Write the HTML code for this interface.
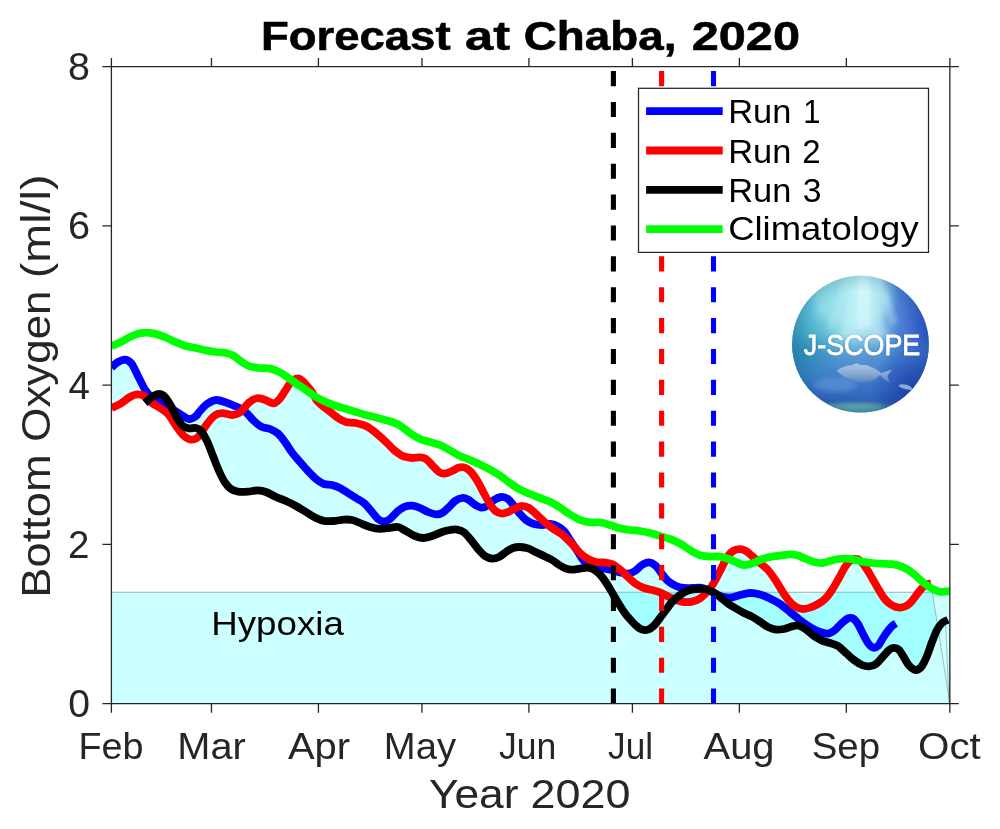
<!DOCTYPE html>
<html lang="en"><head><meta charset="utf-8"><title>Forecast at Chaba, 2020</title>
<style>html,body{margin:0;padding:0;background:#fff}svg{display:block;font-family:"Liberation Sans",sans-serif}</style></head>
<body>
<svg width="1000" height="829" viewBox="0 0 1000 829">
<defs><clipPath id="ax"><rect x="111.40" y="66.70" width="838.45" height="637.00"/></clipPath>
<filter id="gs" filterUnits="userSpaceOnUse" x="0" y="0" width="1000" height="829"><feOffset dx="0" dy="0"/></filter>
<clipPath id="rc"><rect x="100" y="60" width="831" height="650"/></clipPath>
<clipPath id="lc"><circle cx="860.5" cy="344.2" r="68.4"/></clipPath>
<linearGradient id="lg1" x1="0" y1="0" x2="1" y2="0"><stop offset="0" stop-color="#44acc8"/><stop offset="0.2" stop-color="#6ccadc"/><stop offset="0.45" stop-color="#94dce6"/><stop offset="0.62" stop-color="#84c8e4"/><stop offset="0.76" stop-color="#5084d6"/><stop offset="0.9" stop-color="#3660ca"/><stop offset="1" stop-color="#2a4cc0"/></linearGradient>
<linearGradient id="lg2" x1="0" y1="0" x2="0" y2="1"><stop offset="0" stop-color="#4080d0" stop-opacity="0"/><stop offset="0.42" stop-color="#3f80cc" stop-opacity="0.05"/><stop offset="0.58" stop-color="#3f7ccc" stop-opacity="0.7"/><stop offset="0.8" stop-color="#3468c4" stop-opacity="0.92"/><stop offset="0.9" stop-color="#2a5cb4" stop-opacity="0.95"/><stop offset="0.95" stop-color="#3f8fa0" stop-opacity="0.95"/><stop offset="1" stop-color="#4a9a98" stop-opacity="1"/></linearGradient>
<radialGradient id="lg3" cx="860.5" cy="344.2" r="68.4" gradientUnits="userSpaceOnUse"><stop offset="0.78" stop-color="#104880" stop-opacity="0"/><stop offset="1" stop-color="#104880" stop-opacity="0.18"/></radialGradient>
<radialGradient id="lg4" cx="918" cy="392" r="48" gradientUnits="userSpaceOnUse"><stop offset="0" stop-color="#1838a8" stop-opacity="0.85"/><stop offset="1" stop-color="#1838a8" stop-opacity="0"/></radialGradient>
<radialGradient id="lg5" cx="800" cy="352" r="40" gradientUnits="userSpaceOnUse"><stop offset="0" stop-color="#2088a8" stop-opacity="0.7"/><stop offset="1" stop-color="#2088a8" stop-opacity="0"/></radialGradient>
<linearGradient id="fg" x1="0" y1="0" x2="0" y2="1"><stop offset="0" stop-color="#b4cce4"/><stop offset="0.5" stop-color="#8fb0d4"/><stop offset="1" stop-color="#5a80bc"/></linearGradient>
<filter id="bl" x="-30%" y="-30%" width="160%" height="160%"><feGaussianBlur stdDeviation="4"/></filter>
<filter id="bl2" x="-30%" y="-60%" width="160%" height="220%"><feGaussianBlur stdDeviation="2.2"/></filter>
<filter id="ts" x="-10%" y="-30%" width="120%" height="160%"><feGaussianBlur stdDeviation="1.3"/></filter>
<filter id="fb" x="-10%" y="-20%" width="120%" height="140%"><feGaussianBlur stdDeviation="0.5"/></filter>

</defs>
<rect width="1000" height="829" fill="#fff"/>
<g clip-path="url(#ax)">
<rect x="106.40" y="592.23" width="843.45" height="116.48" fill="#00ffff" fill-opacity="0.2" stroke="#000" stroke-opacity="0.3" stroke-width="1"/>
<path d="M111.4 367.5 113.4 365.7 115.4 363.9 117.4 362.4 119.4 361.2 121.4 360.3 123.4 359.7 125.4 359.7 127.4 360.2 129.4 361.4 131.4 363.4 133.4 366.5 135.4 370.6 137.4 374.8 139.4 378.8 141.4 382.9 143.4 386.7 145.4 390.1 147.4 392.9 149.4 395.1 151.4 396.9 153.4 396.1 155.4 395.0 157.4 394.2 159.4 394.0 161.4 394.5 163.4 395.6 165.4 397.4 167.4 400.0 169.4 403.2 171.4 406.7 173.4 409.9 175.4 411.2 177.4 412.4 179.4 413.6 181.4 414.9 183.4 416.2 185.4 417.5 187.4 418.5 189.4 419.0 191.4 418.7 193.4 417.8 195.4 416.4 197.4 414.6 199.4 411.7 201.4 409.4 203.4 407.2 205.4 405.3 207.4 403.7 209.4 402.4 211.4 401.4 213.4 400.5 215.4 400.1 217.4 400.0 219.4 400.3 221.4 400.9 223.4 401.6 225.4 402.3 227.4 403.0 229.4 403.7 231.4 404.5 233.4 405.3 235.4 406.2 237.4 407.2 239.4 408.1 241.4 409.1 243.4 409.0 245.4 406.5 247.4 404.1 249.4 402.2 251.4 400.7 253.4 399.5 255.4 398.6 257.4 398.1 259.4 398.1 261.4 398.6 263.4 399.3 265.4 400.0 267.4 401.0 269.4 402.0 271.4 402.8 273.4 403.4 275.4 402.8 277.4 401.3 279.4 399.2 281.4 396.6 283.4 393.5 285.4 390.4 287.4 387.1 289.4 384.2 291.4 382.1 293.4 380.3 295.4 379.0 297.4 378.2 299.4 378.7 301.4 380.0 303.4 381.8 305.4 383.9 307.4 386.1 309.4 388.5 311.4 391.1 313.4 394.4 315.4 398.2 317.4 401.3 319.4 403.4 321.4 405.1 323.4 406.6 325.4 408.0 327.4 409.5 329.4 411.1 331.4 412.8 333.4 414.5 335.4 416.1 337.4 417.6 339.4 418.9 341.4 420.1 343.4 421.1 345.4 421.8 347.4 422.3 349.4 422.5 351.4 422.6 353.4 422.7 355.4 422.9 357.4 423.3 359.4 423.7 361.4 424.2 363.4 424.9 365.4 425.7 367.4 426.8 369.4 428.0 371.4 429.4 373.4 430.9 375.4 432.5 377.4 434.2 379.4 435.9 381.4 437.7 383.4 439.5 385.4 441.4 387.4 443.4 389.4 445.4 391.4 447.5 393.4 449.4 395.4 451.2 397.4 452.7 399.4 454.1 401.4 455.4 403.4 456.4 405.4 457.0 407.4 457.4 409.4 457.7 411.4 458.0 413.4 458.0 415.4 457.8 417.4 457.5 419.4 457.4 421.4 457.5 423.4 457.9 425.4 458.6 427.4 460.1 429.4 462.2 431.4 464.4 433.4 466.5 435.4 468.7 437.4 470.7 439.4 472.3 441.4 473.2 443.4 473.6 445.4 473.6 447.4 473.0 449.4 472.2 451.4 471.3 453.4 470.3 455.4 469.2 457.4 468.2 459.4 467.5 461.4 467.2 463.4 467.2 465.4 467.8 467.4 468.8 469.4 470.4 471.4 472.5 473.4 475.0 475.4 477.9 477.4 481.0 479.4 484.5 481.4 488.3 483.4 492.3 485.4 496.0 487.4 499.6 489.4 503.0 491.4 502.2 493.4 500.4 495.4 499.1 497.4 498.0 499.4 497.3 501.4 497.0 503.4 497.1 505.4 497.6 507.4 498.6 509.4 500.2 511.4 502.6 513.4 505.2 515.4 507.8 517.4 507.4 519.4 506.5 521.4 506.0 523.4 506.1 525.4 506.5 527.4 507.2 529.4 508.2 531.4 509.7 533.4 511.6 535.4 513.5 537.4 515.3 539.4 517.2 541.4 519.1 543.4 521.0 545.4 522.7 547.4 524.2 549.4 524.0 551.4 524.2 553.4 524.6 555.4 525.3 557.4 526.2 559.4 527.3 561.4 528.7 563.4 530.4 565.4 532.7 567.4 535.8 569.4 539.1 571.4 542.1 573.4 545.1 575.4 547.9 577.4 550.3 579.4 552.4 581.4 554.3 583.4 555.9 585.4 557.4 587.4 558.7 589.4 559.7 591.4 560.6 593.4 561.3 595.4 561.9 597.4 562.2 599.4 562.3 601.4 562.3 603.4 562.3 605.4 562.6 607.4 562.8 609.4 563.1 611.4 563.8 613.4 564.7 615.4 566.0 617.4 567.5 619.4 569.1 621.4 570.8 623.4 572.6 625.4 573.5 627.4 573.6 629.4 573.4 631.4 572.8 633.4 571.9 635.4 570.7 637.4 569.1 639.4 567.1 641.4 565.4 643.4 564.2 645.4 563.1 647.4 562.5 649.4 562.4 651.4 563.0 653.4 564.0 655.4 565.5 657.4 567.5 659.4 570.3 661.4 573.2 663.4 575.8 665.4 578.3 667.4 580.5 669.4 582.1 671.4 583.5 673.4 584.7 675.4 585.7 677.4 586.6 679.4 587.2 681.4 587.6 683.4 587.9 685.4 588.1 687.4 588.2 689.4 588.1 691.4 588.0 693.4 587.9 695.4 587.7 697.4 587.5 699.4 587.5 701.4 587.8 703.4 588.3 705.4 589.0 707.4 589.8 709.4 589.3 711.4 586.6 713.4 583.5 715.4 580.1 717.4 576.2 719.4 572.2 721.4 568.2 723.4 564.2 725.4 560.1 727.4 556.6 729.4 554.1 731.4 552.1 733.4 550.8 735.4 549.9 737.4 549.4 739.4 549.2 741.4 549.3 743.4 549.8 745.4 550.7 747.4 551.9 749.4 553.7 751.4 555.5 753.4 557.2 755.4 559.0 757.4 560.7 759.4 562.5 761.4 564.2 763.4 565.8 765.4 567.4 767.4 569.3 769.4 571.7 771.4 574.3 773.4 577.1 775.4 580.1 777.4 583.2 779.4 586.5 781.4 589.9 783.4 593.1 785.4 596.0 787.4 598.7 789.4 601.2 791.4 603.4 793.4 605.3 795.4 606.7 797.4 607.8 799.4 608.5 801.4 608.9 803.4 609.0 805.4 608.8 807.4 608.4 809.4 607.8 811.4 607.1 813.4 606.3 815.4 605.4 817.4 604.3 819.4 603.2 821.4 601.9 823.4 600.5 825.4 598.6 827.4 596.3 829.4 593.7 831.4 590.9 833.4 587.8 835.4 584.4 837.4 580.9 839.4 577.3 841.4 573.5 843.4 569.7 845.4 566.4 847.4 563.6 849.4 561.5 851.4 560.1 853.4 559.2 855.4 559.0 857.4 559.1 859.4 560.1 861.4 561.9 863.4 564.3 865.4 567.1 867.4 570.2 869.4 573.5 871.4 577.0 873.4 580.4 875.4 584.0 877.4 587.5 879.4 590.9 881.4 594.2 883.4 597.2 885.4 599.7 887.4 601.8 889.4 603.5 891.4 605.0 893.4 606.0 895.4 606.8 897.4 607.4 899.4 607.6 901.4 607.5 903.4 607.1 905.4 606.4 907.4 605.2 909.4 603.7 911.4 601.7 913.4 599.3 915.4 596.5 917.4 593.8 919.4 591.2 921.4 588.7 923.4 586.6 925.4 585.0 927.4 584.1 929.4 583.8 931.0 583.7 938.0 628.3 938.0 628.2 937.0 630.0 936.0 632.0 935.0 634.3 934.0 636.8 933.0 639.4 932.0 642.0 930.9 645.0 928.9 650.9 926.9 656.2 924.9 660.7 922.9 664.5 920.9 667.5 918.9 669.2 916.9 669.9 914.9 669.8 912.9 668.9 910.9 667.4 908.9 665.4 906.9 662.4 904.9 659.0 902.9 655.7 900.9 652.3 898.9 649.7 896.9 648.3 894.9 647.8 892.9 647.9 890.9 648.7 888.9 650.1 886.9 652.0 884.9 654.3 882.9 656.6 880.9 658.9 878.9 661.3 876.9 663.3 874.9 664.7 872.9 665.6 870.9 666.2 868.9 666.4 866.9 666.4 864.9 666.0 862.9 665.4 860.9 664.5 858.9 663.4 856.9 662.1 854.9 660.7 852.9 659.1 850.9 657.4 848.9 655.6 846.9 653.8 844.9 652.0 842.9 650.1 840.9 648.2 838.9 646.6 836.9 645.4 834.9 644.5 832.9 643.9 830.9 643.3 828.9 642.7 826.9 642.1 824.9 641.6 822.9 641.0 820.9 640.1 818.9 639.1 816.9 637.9 814.9 636.6 812.9 635.2 810.9 633.6 808.9 631.9 806.9 630.3 804.9 628.8 802.9 627.4 800.9 626.3 798.9 625.6 796.9 625.4 794.9 625.7 792.9 626.2 790.9 626.7 788.9 627.4 786.9 628.1 784.9 628.8 782.9 629.2 780.9 629.5 778.9 629.7 776.9 629.7 774.9 629.4 772.9 629.0 770.9 628.3 768.9 627.4 766.9 626.4 764.9 625.1 762.9 623.6 760.9 622.2 758.9 620.9 756.9 619.6 754.9 618.3 752.9 617.1 750.9 616.0 748.9 615.1 746.9 614.3 744.9 613.4 742.9 612.4 740.9 611.3 738.9 610.2 736.9 609.0 734.9 607.9 732.9 606.7 730.9 605.4 728.9 604.1 726.9 602.7 724.9 601.0 722.9 599.3 720.9 597.7 718.9 596.2 716.9 594.7 714.9 593.5 712.9 592.4 710.9 591.4 708.9 590.4 706.9 592.2 704.9 594.3 702.9 596.1 700.9 597.8 698.9 599.1 696.9 600.1 694.9 600.8 692.9 601.4 690.9 601.8 688.9 602.1 686.9 602.1 684.9 602.1 682.9 601.9 680.9 601.5 678.9 600.9 676.9 600.3 674.9 599.6 672.9 601.1 670.9 603.3 668.9 605.9 666.9 608.8 664.9 611.5 662.9 614.2 660.9 616.8 658.9 619.5 656.9 622.2 654.9 624.7 652.9 626.6 650.9 628.1 648.9 629.2 646.9 629.9 644.9 630.0 642.9 629.8 640.9 629.2 638.9 627.9 636.9 626.3 634.9 624.5 632.9 622.5 630.9 620.4 628.9 618.1 626.9 615.8 624.9 613.2 622.9 610.3 620.9 607.2 618.9 604.0 616.9 600.7 614.9 597.4 612.9 594.0 610.9 590.5 608.9 587.1 606.9 583.8 604.9 580.8 602.9 578.0 600.9 575.5 598.9 573.4 596.9 571.6 594.9 570.2 592.9 569.0 590.9 568.1 588.9 567.7 586.9 567.6 584.9 567.8 582.9 568.1 580.9 568.5 578.9 568.8 576.9 569.1 574.9 569.4 572.9 569.6 570.9 569.6 568.9 569.4 566.9 568.9 564.9 568.2 562.9 567.2 560.9 566.0 558.9 564.8 556.9 563.4 554.9 561.9 552.9 560.6 550.9 559.4 548.9 558.3 546.9 557.4 544.9 556.4 542.9 555.5 540.9 554.6 538.9 553.6 536.9 552.7 534.9 551.8 532.9 550.7 530.9 549.6 528.9 548.7 526.9 548.1 524.9 547.6 522.9 547.2 520.9 547.0 518.9 547.0 516.9 547.1 514.9 547.4 512.9 548.0 510.9 549.0 508.9 550.1 506.9 551.4 504.9 552.8 502.9 554.3 500.9 555.9 498.9 557.0 496.9 557.9 494.9 558.4 492.9 558.6 490.9 558.5 488.9 558.0 486.9 557.1 484.9 555.9 482.9 554.3 480.9 552.3 478.9 550.0 476.9 547.7 474.9 545.1 472.9 542.4 470.9 539.9 468.9 537.5 466.9 535.1 464.9 533.1 462.9 531.7 460.9 530.7 458.9 530.0 456.9 529.6 454.9 529.4 452.9 529.6 450.9 529.9 448.9 530.2 446.9 530.6 444.9 531.1 442.9 531.7 440.9 532.4 438.9 533.2 436.9 534.1 434.9 534.9 432.9 535.7 430.9 536.4 428.9 537.0 426.9 537.5 424.9 537.9 422.9 538.0 420.9 537.8 418.9 537.3 416.9 536.7 414.9 536.0 412.9 535.1 410.9 534.0 408.9 532.7 406.9 531.5 404.9 530.4 402.9 529.2 400.9 528.1 398.9 527.2 396.9 526.9 394.9 527.0 392.9 527.3 390.9 527.7 388.9 527.9 386.9 528.2 384.9 528.5 382.9 528.7 380.9 528.8 378.9 528.7 376.9 528.5 374.9 528.2 372.9 527.8 370.9 527.3 368.9 526.7 366.9 525.9 364.9 525.1 362.9 524.2 360.9 523.4 358.9 522.6 356.9 521.7 354.9 520.9 352.9 520.2 350.9 519.8 348.9 519.6 346.9 519.5 344.9 519.6 342.9 519.7 340.9 520.0 338.9 520.3 336.9 520.7 334.9 520.9 332.9 521.1 330.9 521.1 328.9 521.2 326.9 521.1 324.9 520.9 322.9 520.6 320.9 520.1 318.9 519.3 316.9 518.4 314.9 517.4 312.9 516.3 310.9 515.1 308.9 513.8 306.9 512.5 304.9 511.3 302.9 510.1 300.9 508.9 298.9 507.7 296.9 506.5 294.9 505.4 292.9 504.3 290.9 503.3 288.9 502.3 286.9 501.4 284.9 500.5 282.9 499.7 280.9 499.0 278.9 498.2 276.9 497.4 274.9 496.5 272.9 495.4 270.9 494.4 268.9 493.3 266.9 492.4 264.9 491.6 262.9 491.0 260.9 490.6 258.9 490.4 256.9 490.4 254.9 490.6 252.9 490.9 250.9 491.3 248.9 491.5 246.9 491.7 244.9 491.8 242.9 491.8 240.9 491.8 238.9 491.7 236.9 491.4 234.9 490.9 232.9 490.1 230.9 488.9 228.9 487.3 226.9 485.1 224.9 482.3 222.9 479.0 220.9 475.1 218.9 470.8 216.9 466.0 214.9 460.9 212.9 455.7 210.9 450.6 208.9 445.4 206.9 440.8 204.9 436.9 202.9 433.6 200.9 433.3 198.9 436.0 196.9 437.9 194.9 439.1 192.9 439.6 190.9 439.6 188.9 439.2 186.9 438.2 184.9 436.8 182.9 434.9 180.9 432.6 178.9 430.0 176.9 427.2 174.9 424.4 172.9 421.2 170.9 418.0 168.9 415.1 166.9 412.9 164.9 411.2 162.9 409.9 160.9 408.6 158.9 407.3 156.9 406.1 154.9 404.9 152.9 403.6 150.9 402.1 148.9 400.2 146.9 401.3 144.9 396.6 142.9 395.4 140.9 394.7 138.9 394.4 136.9 394.4 134.9 394.8 132.9 395.5 130.9 396.5 128.9 397.7 126.9 399.1 124.9 400.6 122.9 402.0 120.9 403.4 118.9 404.6 116.9 405.6 114.9 406.5 112.9 407.4Z" fill="#00ffff" fill-opacity="0.2"/>
<path d="M931 583.7L949.85 703.70M945.5 621L949.05 703.70" fill="none" stroke="#000" stroke-opacity="0.28" stroke-width="0.9"/>
<path d="M111.4 367.5C112.5 366.6 115.7 363.3 118.0 362.0C120.3 360.7 122.8 359.4 125.0 359.6C127.2 359.9 129.4 360.9 131.5 363.5C133.6 366.1 135.2 370.7 137.5 375.0C139.8 379.3 142.7 385.8 145.0 389.5C147.3 393.2 148.8 394.8 151.5 397.0C154.2 399.2 157.8 401.1 161.0 403.0C164.2 404.9 167.8 406.7 171.0 408.5C174.2 410.3 177.0 412.2 180.0 414.0C183.0 415.8 186.3 418.7 189.0 419.0C191.7 419.3 194.2 417.3 196.0 416.0C197.8 414.7 198.2 413.0 200.0 411.0C201.8 409.0 204.3 405.8 207.0 404.0C209.7 402.2 212.8 400.2 216.0 400.0C219.2 399.8 222.7 401.4 226.0 402.5C229.3 403.6 232.8 405.0 236.0 406.5C239.2 408.0 242.0 409.1 245.0 411.5C248.0 413.9 251.2 418.4 254.0 421.0C256.8 423.6 259.3 425.7 262.0 427.0C264.7 428.3 267.3 427.9 270.0 429.0C272.7 430.1 275.5 431.3 278.0 433.5C280.5 435.7 282.7 438.8 285.0 442.0C287.3 445.2 289.5 449.2 292.0 452.5C294.5 455.8 297.3 458.9 300.0 462.0C302.7 465.1 305.3 468.2 308.0 471.0C310.7 473.8 313.3 476.8 316.0 479.0C318.7 481.2 321.3 483.0 324.0 484.0C326.7 485.0 329.3 484.3 332.0 485.0C334.7 485.7 337.3 486.7 340.0 488.0C342.7 489.3 345.3 491.3 348.0 493.0C350.7 494.7 353.3 496.3 356.0 498.0C358.7 499.7 361.3 500.7 364.0 503.0C366.7 505.3 369.7 509.3 372.0 512.0C374.3 514.7 376.0 517.4 378.0 519.0C380.0 520.6 382.0 521.5 384.0 521.5C386.0 521.5 387.7 520.8 390.0 519.0C392.3 517.2 395.5 513.1 398.0 511.0C400.5 508.9 402.7 507.5 405.0 506.6C407.3 505.7 409.5 505.4 412.0 505.6C414.5 505.8 417.3 506.9 420.0 508.0C422.7 509.1 425.3 510.9 428.0 512.0C430.7 513.1 433.7 514.2 436.0 514.4C438.3 514.6 440.0 514.1 442.0 513.0C444.0 511.9 445.8 510.0 448.0 508.0C450.2 506.0 452.7 502.7 455.0 501.0C457.3 499.3 459.8 498.3 462.0 498.0C464.2 497.7 466.0 498.4 468.0 499.4C470.0 500.4 471.8 502.6 474.0 504.0C476.2 505.4 478.8 507.3 481.0 507.6C483.2 507.9 484.8 507.3 487.0 506.0C489.2 504.7 491.7 501.5 494.0 500.0C496.3 498.5 498.7 497.2 501.0 497.0C503.3 496.8 505.8 497.5 508.0 499.0C510.2 500.5 512.0 503.5 514.0 506.0C516.0 508.5 518.0 511.7 520.0 514.0C522.0 516.3 523.7 518.3 526.0 520.0C528.3 521.7 531.3 523.2 534.0 524.0C536.7 524.8 539.3 525.0 542.0 525.0C544.7 525.0 547.5 523.8 550.0 524.0C552.5 524.2 554.7 524.8 557.0 526.0C559.3 527.2 561.8 528.7 564.0 531.0C566.2 533.3 567.7 536.5 570.0 540.0C572.3 543.5 575.7 548.5 578.0 552.0C580.3 555.5 581.7 558.7 584.0 561.0C586.3 563.3 589.0 564.8 592.0 566.0C595.0 567.2 598.7 567.3 602.0 568.0C605.3 568.7 609.0 569.3 612.0 570.0C615.0 570.7 617.3 571.8 620.0 572.4C622.7 573.0 625.5 573.8 628.0 573.6C630.5 573.4 632.7 572.4 635.0 571.0C637.3 569.6 639.7 566.4 642.0 565.0C644.3 563.6 646.7 562.2 649.0 562.4C651.3 562.6 653.8 564.1 656.0 566.0C658.2 567.9 660.0 571.5 662.0 574.0C664.0 576.5 665.7 579.0 668.0 581.0C670.3 583.0 673.3 584.8 676.0 586.0C678.7 587.2 681.3 587.7 684.0 588.0C686.7 588.3 689.3 588.1 692.0 588.0C694.7 587.9 697.3 587.3 700.0 587.6C702.7 587.9 705.3 588.9 708.0 590.0C710.7 591.1 713.3 592.8 716.0 594.0C718.7 595.2 721.3 596.4 724.0 597.0C726.7 597.6 729.3 597.7 732.0 597.4C734.7 597.1 737.0 595.7 740.0 595.0C743.0 594.3 746.7 593.1 750.0 593.0C753.3 592.9 756.7 593.5 760.0 594.4C763.3 595.3 766.7 596.8 770.0 598.4C773.3 600.0 776.7 601.7 780.0 604.0C783.3 606.3 786.7 609.3 790.0 612.0C793.3 614.7 796.7 617.5 800.0 620.0C803.3 622.5 806.7 625.0 810.0 627.0C813.3 629.0 817.0 630.9 820.0 632.0C823.0 633.1 825.5 633.9 828.0 633.6C830.5 633.3 832.7 631.8 835.0 630.0C837.3 628.2 839.8 624.9 842.0 623.0C844.2 621.1 846.2 619.2 848.0 618.4C849.8 617.6 851.3 617.5 853.0 618.4C854.7 619.3 856.3 621.4 858.0 624.0C859.7 626.6 861.3 630.8 863.0 634.0C864.7 637.2 866.3 640.7 868.0 643.0C869.7 645.3 871.3 647.1 873.0 647.6C874.7 648.1 876.3 647.6 878.0 646.0C879.7 644.4 881.2 640.8 883.0 638.0C884.8 635.2 887.3 631.6 889.0 629.5C890.7 627.4 891.8 626.2 893.0 625.2C894.2 624.2 895.5 623.8 896.0 623.5" fill="none" stroke="#0000ff" stroke-width="7.8" stroke-linejoin="round" stroke-linecap="butt"/>
<path d="M111.4 408.0C112.8 407.3 116.9 405.8 120.0 404.0C123.1 402.2 127.2 398.6 130.0 397.0C132.8 395.4 134.7 394.6 137.0 394.4C139.3 394.2 141.5 394.6 144.0 396.0C146.5 397.4 149.3 401.0 152.0 403.0C154.7 405.0 157.3 406.2 160.0 408.0C162.7 409.8 165.3 411.0 168.0 414.0C170.7 417.0 173.3 422.3 176.0 426.0C178.7 429.7 181.5 433.7 184.0 436.0C186.5 438.3 188.7 439.4 191.0 439.6C193.3 439.8 195.5 439.4 198.0 437.0C200.5 434.6 203.3 429.0 206.0 425.5C208.7 422.0 211.3 418.1 214.0 416.0C216.7 413.9 219.0 413.4 222.0 413.2C225.0 413.0 229.0 415.1 232.0 415.0C235.0 414.9 237.2 414.6 240.0 412.5C242.8 410.4 246.2 404.9 249.0 402.5C251.8 400.1 254.5 398.7 257.0 398.2C259.5 397.7 261.7 398.8 264.0 399.5C266.3 400.2 269.2 402.1 271.0 402.7C272.8 403.3 273.5 403.7 275.0 403.0C276.5 402.3 278.3 400.5 280.0 398.5C281.7 396.5 283.3 393.5 285.0 391.0C286.7 388.5 288.2 385.6 290.0 383.5C291.8 381.4 294.3 379.4 296.0 378.7C297.7 377.9 298.3 378.0 300.0 379.0C301.7 380.0 304.0 382.3 306.0 384.5C308.0 386.7 310.0 389.1 312.0 392.0C314.0 394.9 315.3 399.0 318.0 402.0C320.7 405.0 324.7 407.3 328.0 410.0C331.3 412.7 335.0 416.0 338.0 418.0C341.0 420.0 343.0 421.2 346.0 422.0C349.0 422.8 352.7 422.3 356.0 423.0C359.3 423.7 362.7 424.3 366.0 426.0C369.3 427.7 372.7 430.3 376.0 433.0C379.3 435.7 383.0 439.2 386.0 442.0C389.0 444.8 391.7 447.9 394.0 450.0C396.3 452.1 398.3 453.4 400.0 454.5C401.7 455.6 402.0 456.0 404.0 456.6C406.0 457.2 409.3 457.9 412.0 458.0C414.7 458.1 417.7 457.2 420.0 457.4C422.3 457.6 424.0 457.7 426.0 459.0C428.0 460.3 429.8 462.8 432.0 465.0C434.2 467.2 436.8 470.6 439.0 472.0C441.2 473.4 442.8 473.8 445.0 473.6C447.2 473.4 449.7 472.0 452.0 471.0C454.3 470.0 456.8 468.2 459.0 467.6C461.2 467.0 463.0 466.9 465.0 467.6C467.0 468.3 468.8 469.6 471.0 472.0C473.2 474.4 475.8 478.3 478.0 482.0C480.2 485.7 482.3 490.3 484.3 494.0C486.3 497.7 488.2 501.2 490.0 504.0C491.8 506.8 493.0 509.0 495.0 510.6C497.0 512.2 499.7 513.4 502.0 513.6C504.3 513.8 506.7 512.5 509.0 511.6C511.3 510.7 513.8 508.9 516.0 508.0C518.2 507.1 519.8 506.0 522.0 506.0C524.2 506.0 526.7 506.7 529.0 508.0C531.3 509.3 533.5 511.8 536.0 514.0C538.5 516.2 541.3 519.2 544.0 521.5C546.7 523.8 549.3 526.1 552.0 528.0C554.7 529.9 558.0 531.7 560.0 533.0C562.0 534.3 562.0 534.2 564.0 536.0C566.0 537.8 569.3 541.2 572.0 544.0C574.7 546.8 577.3 550.5 580.0 553.0C582.7 555.5 585.3 557.5 588.0 559.0C590.7 560.5 593.3 561.4 596.0 562.0C598.7 562.6 601.3 562.1 604.0 562.4C606.7 562.7 609.3 562.8 612.0 564.0C614.7 565.2 617.3 567.4 620.0 569.6C622.7 571.8 625.3 574.6 628.0 577.0C630.7 579.4 633.3 582.2 636.0 584.0C638.7 585.8 641.3 587.0 644.0 588.0C646.7 589.0 649.3 589.3 652.0 590.0C654.7 590.7 657.3 591.3 660.0 592.4C662.7 593.5 665.3 595.1 668.0 596.4C670.7 597.7 673.3 599.1 676.0 600.0C678.7 600.9 681.3 601.7 684.0 602.0C686.7 602.3 689.3 602.2 692.0 601.6C694.7 601.0 697.3 600.2 700.0 598.4C702.7 596.6 705.7 593.6 708.0 591.0C710.3 588.4 712.2 585.5 714.0 582.5C715.8 579.5 717.5 575.9 719.0 573.0C720.5 570.1 721.6 567.8 723.0 565.0C724.4 562.2 725.8 558.8 727.5 556.5C729.2 554.2 730.9 552.2 733.0 551.0C735.1 549.8 737.8 549.2 740.0 549.2C742.2 549.2 744.0 549.9 746.0 551.0C748.0 552.1 749.7 554.0 752.0 556.0C754.3 558.0 757.3 560.7 760.0 563.0C762.7 565.3 765.3 567.0 768.0 570.0C770.7 573.0 773.3 577.0 776.0 581.0C778.7 585.0 781.5 590.3 784.0 594.0C786.5 597.7 788.8 600.7 791.0 603.0C793.2 605.3 795.0 606.6 797.0 607.6C799.0 608.6 800.8 609.0 803.0 609.0C805.2 609.0 807.5 608.4 810.0 607.6C812.5 606.8 815.5 605.4 818.0 604.0C820.5 602.6 822.7 601.3 825.0 599.0C827.3 596.7 829.7 593.5 832.0 590.0C834.3 586.5 836.8 581.8 839.0 578.0C841.2 574.2 843.2 569.8 845.0 567.0C846.8 564.2 848.3 562.3 850.0 561.0C851.7 559.7 853.3 559.1 855.0 559.0C856.7 558.9 858.2 559.0 860.0 560.5C861.8 562.0 864.0 565.1 866.0 568.0C868.0 570.9 870.0 574.6 872.0 578.0C874.0 581.4 876.0 585.2 878.0 588.5C880.0 591.8 882.0 595.4 884.0 598.0C886.0 600.6 888.0 602.5 890.0 604.0C892.0 605.5 894.1 606.4 896.0 607.0C897.9 607.6 899.7 607.8 901.5 607.5C903.3 607.2 905.2 606.6 907.0 605.5C908.8 604.4 910.2 603.1 912.0 601.0C913.8 598.9 916.2 595.3 918.0 593.0C919.8 590.7 921.5 588.5 923.0 587.0C924.5 585.5 925.7 584.8 927.0 584.2C928.3 583.7 930.3 583.8 931.0 583.7" fill="none" stroke="#ff0000" stroke-width="7.8" stroke-linejoin="round" stroke-linecap="butt" clip-path="url(#rc)"/>
<path d="M145.0 403.0C146.2 402.0 149.7 398.5 152.0 397.0C154.3 395.5 156.8 394.0 159.0 394.0C161.2 394.0 163.0 395.0 165.0 397.0C167.0 399.0 169.0 402.5 171.0 406.0C173.0 409.5 175.0 414.7 177.0 418.0C179.0 421.3 181.0 424.3 183.0 426.0C185.0 427.7 186.8 428.1 189.0 428.4C191.2 428.7 194.0 427.6 196.0 428.0C198.0 428.4 199.2 428.8 201.0 431.0C202.8 433.2 205.0 436.8 207.0 441.0C209.0 445.2 211.0 451.0 213.0 456.0C215.0 461.0 217.0 466.6 219.0 471.0C221.0 475.4 223.0 479.5 225.0 482.5C227.0 485.5 228.8 487.5 231.0 489.0C233.2 490.5 235.2 491.2 238.0 491.6C240.8 492.0 244.7 491.8 248.0 491.6C251.3 491.4 255.0 490.3 258.0 490.4C261.0 490.5 263.0 490.9 266.0 492.0C269.0 493.1 272.7 495.5 276.0 497.0C279.3 498.5 282.7 499.5 286.0 501.0C289.3 502.5 292.7 504.2 296.0 506.0C299.3 507.8 302.7 510.0 306.0 512.0C309.3 514.0 313.0 516.5 316.0 518.0C319.0 519.5 321.0 520.3 324.0 520.8C327.0 521.3 330.7 521.2 334.0 521.0C337.3 520.8 341.0 519.8 344.0 519.6C347.0 519.4 349.3 519.4 352.0 520.0C354.7 520.6 357.0 521.8 360.0 523.0C363.0 524.2 366.7 526.0 370.0 527.0C373.3 528.0 376.7 528.7 380.0 528.8C383.3 528.9 387.0 528.1 390.0 527.8C393.0 527.5 395.3 526.5 398.0 527.0C400.7 527.5 403.3 529.6 406.0 531.0C408.7 532.4 411.2 534.4 414.0 535.6C416.8 536.8 420.0 537.9 423.0 538.0C426.0 538.1 428.8 537.0 432.0 536.0C435.2 535.0 439.0 533.0 442.0 532.0C445.0 531.0 447.5 530.4 450.0 530.0C452.5 529.6 454.7 529.2 457.0 529.6C459.3 530.0 461.7 530.7 464.0 532.4C466.3 534.1 468.7 537.2 471.0 540.0C473.3 542.8 475.7 546.3 478.0 549.0C480.3 551.7 482.7 554.4 485.0 556.0C487.3 557.6 489.7 558.4 492.0 558.6C494.3 558.8 496.7 558.1 499.0 557.0C501.3 555.9 503.7 553.5 506.0 552.0C508.3 550.5 510.7 548.8 513.0 548.0C515.3 547.2 517.5 546.9 520.0 547.0C522.5 547.1 525.3 547.5 528.0 548.4C530.7 549.3 533.3 551.0 536.0 552.3C538.7 553.6 541.3 554.7 544.0 556.0C546.7 557.3 549.3 558.4 552.0 560.0C554.7 561.6 557.7 564.1 560.0 565.5C562.3 566.9 564.0 567.9 566.0 568.6C568.0 569.3 569.7 569.6 572.0 569.6C574.3 569.6 577.3 568.9 580.0 568.6C582.7 568.3 585.7 567.4 588.0 567.6C590.3 567.8 591.9 568.4 594.0 569.6C596.1 570.8 598.3 572.6 600.5 575.0C602.7 577.4 604.8 580.7 607.0 584.0C609.2 587.3 611.4 591.5 613.5 595.0C615.6 598.5 617.5 601.8 619.5 605.0C621.5 608.2 623.5 611.3 625.5 614.0C627.5 616.7 629.6 618.9 631.5 621.0C633.4 623.1 635.2 625.0 637.0 626.4C638.8 627.8 640.2 629.1 642.0 629.6C643.8 630.1 646.0 630.3 648.0 629.6C650.0 628.9 652.0 627.5 654.0 625.6C656.0 623.7 658.0 620.6 660.0 618.0C662.0 615.4 664.0 612.7 666.0 610.0C668.0 607.3 669.7 604.5 672.0 602.0C674.3 599.5 677.3 596.9 680.0 595.0C682.7 593.1 685.3 591.6 688.0 590.6C690.7 589.6 693.3 589.3 696.0 589.0C698.7 588.7 701.3 588.6 704.0 589.0C706.7 589.4 709.3 590.3 712.0 591.6C714.7 592.9 717.3 595.0 720.0 597.0C722.7 599.0 725.3 601.6 728.0 603.5C730.7 605.4 733.3 606.9 736.0 608.5C738.7 610.1 741.3 611.6 744.0 613.0C746.7 614.4 749.3 615.2 752.0 616.6C754.7 618.0 757.3 619.9 760.0 621.6C762.7 623.3 765.3 625.7 768.0 627.0C770.7 628.3 773.3 629.3 776.0 629.6C778.7 629.9 781.3 629.5 784.0 629.0C786.7 628.5 789.5 627.0 792.0 626.4C794.5 625.8 796.7 625.1 799.0 625.6C801.3 626.1 803.5 627.9 806.0 629.6C808.5 631.3 811.3 634.2 814.0 636.0C816.7 637.8 819.3 639.4 822.0 640.6C824.7 641.8 827.3 642.1 830.0 643.0C832.7 643.9 835.3 644.3 838.0 646.0C840.7 647.7 843.3 650.7 846.0 653.0C848.7 655.3 851.3 658.0 854.0 660.0C856.7 662.0 859.5 663.9 862.0 665.0C864.5 666.1 866.7 666.6 869.0 666.4C871.3 666.2 873.7 665.6 876.0 664.0C878.3 662.4 880.8 658.8 883.0 656.5C885.2 654.2 887.2 651.5 889.0 650.0C890.8 648.5 892.3 647.8 894.0 647.8C895.7 647.8 897.3 648.2 899.0 649.8C900.7 651.4 902.3 654.9 904.0 657.5C905.7 660.1 907.3 663.5 909.0 665.5C910.7 667.5 912.5 668.8 914.0 669.5C915.5 670.2 916.7 670.2 918.0 669.6C919.3 669.0 920.5 668.3 922.0 666.0C923.5 663.7 925.3 660.0 927.0 656.0C928.7 652.0 930.3 646.3 932.0 642.0C933.7 637.7 935.3 633.2 937.0 630.0C938.7 626.8 940.2 624.7 942.0 623.0C943.8 621.3 947.0 620.3 948.0 619.8" fill="none" stroke="#000000" stroke-width="7.8" stroke-linejoin="round" stroke-linecap="butt"/>
<path d="M111.4 346.3C112.5 345.8 115.9 344.3 118.0 343.3C120.1 342.3 122.0 341.4 124.0 340.3C126.0 339.2 128.0 338.0 130.0 337.0C132.0 336.0 134.2 335.0 136.0 334.4C137.8 333.8 139.3 333.4 141.0 333.1C142.7 332.8 144.0 332.7 146.0 332.7C148.0 332.7 150.7 332.9 153.0 333.3C155.3 333.7 157.7 334.4 160.0 335.2C162.3 336.0 164.5 336.9 167.0 338.0C169.5 339.1 171.8 340.5 175.0 341.8C178.2 343.1 182.5 345.0 186.0 346.0C189.5 347.0 192.7 347.3 196.0 348.0C199.3 348.7 202.7 349.7 206.0 350.4C209.3 351.1 212.7 351.6 216.0 352.0C219.3 352.4 223.0 352.3 226.0 353.0C229.0 353.7 231.3 354.5 234.0 356.0C236.7 357.5 239.3 360.3 242.0 362.0C244.7 363.7 247.0 365.4 250.0 366.4C253.0 367.4 256.7 367.6 260.0 368.0C263.3 368.4 266.7 367.9 270.0 368.6C273.3 369.3 276.7 370.7 280.0 372.4C283.3 374.1 286.7 376.7 290.0 379.0C293.3 381.3 297.3 384.2 300.0 386.0C302.7 387.8 303.3 388.2 306.0 390.0C308.7 391.8 312.7 395.0 316.0 397.0C319.3 399.0 322.7 400.5 326.0 402.0C329.3 403.5 332.7 404.8 336.0 406.0C339.3 407.2 342.7 408.0 346.0 409.0C349.3 410.0 352.7 411.0 356.0 412.0C359.3 413.0 362.7 414.1 366.0 415.0C369.3 415.9 372.7 416.7 376.0 417.6C379.3 418.5 383.0 419.5 386.0 420.3C389.0 421.1 391.7 421.7 394.0 422.6C396.3 423.5 397.3 423.8 400.0 425.5C402.7 427.2 406.7 430.8 410.0 433.0C413.3 435.2 416.7 437.5 420.0 439.0C423.3 440.5 426.7 441.0 430.0 442.0C433.3 443.0 436.7 443.6 440.0 445.0C443.3 446.4 446.7 448.6 450.0 450.4C453.3 452.2 456.7 454.4 460.0 456.0C463.3 457.6 466.7 458.6 470.0 460.0C473.3 461.4 476.7 462.8 480.0 464.4C483.3 466.0 486.7 467.7 490.0 469.6C493.3 471.5 496.7 473.4 500.0 475.6C503.3 477.8 506.7 480.7 510.0 483.0C513.3 485.3 516.7 487.8 520.0 489.6C523.3 491.4 526.7 492.6 530.0 494.0C533.3 495.4 536.7 496.7 540.0 498.0C543.3 499.3 546.7 500.2 550.0 501.8C553.3 503.4 556.7 505.4 560.0 507.5C563.3 509.6 566.7 512.5 570.0 514.5C573.3 516.5 576.7 518.5 580.0 519.8C583.3 521.1 586.7 522.0 590.0 522.4C593.3 522.8 596.7 522.0 600.0 522.4C603.3 522.8 606.7 524.0 610.0 525.0C613.3 526.0 616.7 527.6 620.0 528.4C623.3 529.2 626.7 529.6 630.0 530.0C633.3 530.4 636.7 530.5 640.0 531.0C643.3 531.5 646.7 532.2 650.0 533.0C653.3 533.8 656.7 535.0 660.0 536.0C663.3 537.0 666.7 537.8 670.0 539.0C673.3 540.2 676.7 541.7 680.0 543.5C683.3 545.3 686.7 548.0 690.0 550.0C693.3 552.0 696.7 554.1 700.0 555.2C703.3 556.3 706.7 556.2 710.0 556.5C713.3 556.8 716.7 556.2 720.0 556.7C723.3 557.2 727.2 558.5 730.0 559.5C732.8 560.5 734.7 561.6 737.0 562.5C739.3 563.4 741.5 564.8 744.0 565.0C746.5 565.2 749.3 564.4 752.0 563.6C754.7 562.8 757.0 561.1 760.0 560.0C763.0 558.9 766.7 557.7 770.0 557.0C773.3 556.3 776.7 556.0 780.0 555.6C783.3 555.2 787.0 554.4 790.0 554.4C793.0 554.4 795.3 554.8 798.0 555.6C800.7 556.4 803.3 557.9 806.0 559.0C808.7 560.1 811.3 561.3 814.0 562.0C816.7 562.7 819.3 563.2 822.0 563.0C824.7 562.8 827.3 561.7 830.0 561.0C832.7 560.3 835.3 559.4 838.0 559.0C840.7 558.6 843.3 558.5 846.0 558.6C848.7 558.7 851.3 559.1 854.0 559.6C856.7 560.1 859.0 561.0 862.0 561.6C865.0 562.2 868.7 562.6 872.0 563.0C875.3 563.4 878.7 563.5 882.0 563.7C885.3 563.9 889.0 563.8 892.0 564.2C895.0 564.6 897.3 565.1 900.0 566.0C902.7 566.9 905.3 568.1 908.0 569.8C910.7 571.5 913.3 573.8 916.0 576.0C918.7 578.2 921.3 580.9 924.0 583.0C926.7 585.1 929.3 587.1 932.0 588.6C934.7 590.1 937.0 591.4 940.0 591.8C943.0 592.2 948.2 591.3 949.9 591.2" fill="none" stroke="#00ff00" stroke-width="7.8" stroke-linejoin="round" stroke-linecap="butt"/>
<line x1="613.4" y1="703.70" x2="613.4" y2="26.70" stroke="#000000" stroke-width="5.1" stroke-dasharray="15.1 15.775"/>
<line x1="661.6" y1="703.70" x2="661.6" y2="26.70" stroke="#ff0000" stroke-width="5.1" stroke-dasharray="15.1 15.775"/>
<line x1="713.5" y1="703.70" x2="713.5" y2="26.70" stroke="#0000ff" stroke-width="5.1" stroke-dasharray="15.1 15.775"/>
</g>
<path d="M111.40 66.70H949.85V703.70H111.40ZM111.40 703.70v9M111.40 66.70v-8.7M211.46 703.70v9M211.46 66.70v-8.7M318.42 703.70v9M318.42 66.70v-8.7M421.94 703.70v9M421.94 66.70v-8.7M528.90 703.70v9M528.90 66.70v-8.7M632.41 703.70v9M632.41 66.70v-8.7M739.37 703.70v9M739.37 66.70v-8.7M846.34 703.70v9M846.34 66.70v-8.7M949.85 703.70v9M949.85 66.70v-8.7M111.40 703.70h-9M949.85 703.70h9M111.40 544.45h-9M949.85 544.45h9M111.40 385.20h-9M949.85 385.20h9M111.40 225.95h-9M949.85 225.95h9M111.40 66.70h-9M949.85 66.70h9" fill="none" stroke="#262626" stroke-width="1.3"/>
<g clip-path="url(#lc)">
<rect x="790" y="274" width="142" height="142" fill="url(#lg1)"/>
<ellipse cx="852" cy="296" rx="40" ry="30" fill="#b8f4f4" opacity="0.45" filter="url(#bl)"/>
<polygon points="852,268 876,268 886,340 838,340" fill="#d8ffff" opacity="0.5" filter="url(#bl)"/>
<polygon points="859,268 869,268 872,328 856,328" fill="#e8ffff" opacity="0.5" filter="url(#bl2)"/>
<polygon points="872,268 878,268 898,322 890,326" fill="#e0ffff" opacity="0.28" filter="url(#bl2)"/>
<polygon points="846,270 852,268 836,330 826,330" fill="#e0ffff" opacity="0.22" filter="url(#bl2)"/>
<rect x="790" y="274" width="142" height="142" fill="url(#lg2)"/>
<rect x="790" y="274" width="142" height="142" fill="url(#lg5)"/>
<rect x="790" y="274" width="142" height="142" fill="url(#lg4)"/>
<ellipse cx="856" cy="406" rx="28" ry="3" fill="#8cccb8" opacity="0.6" filter="url(#bl2)"/>
<ellipse cx="835" cy="385" rx="22" ry="7" fill="#7fb0e0" opacity="0.35" filter="url(#bl2)"/>
<rect x="790" y="274" width="142" height="142" fill="url(#lg3)"/>
<path d="M836.8 370.8c3-3 9-5.200 14.500-5.600l5.300-1.900l4 1.600l6 .2l3 1.300c4 1 8 3.200 11.300 6.500l11.400-3.300c-3 3-4.200 5-4.600 7l2 6.500c-3.500-1.500-7-4.500-9.500-8c-3 3-7 5.500-11 6.500c-4 1.200-9.500.8-14-.5c-7-1.500-14-5.500-18.400-10.300z" fill="url(#fg)" opacity="0.92" filter="url(#fb)"/>
<path d="M898 385.500c3-1.800 8-1.800 12.500 1l3 3.200c-5 .8-11.500-.8-15.500-4.200z" fill="#9cbce0" opacity="0.85" filter="url(#fb)"/>
</g>
<text x="862" y="355.4" font-size="29.5" text-anchor="middle" fill="#0c3c78" opacity="0.55" filter="url(#ts)" textLength="116.500" lengthAdjust="spacingAndGlyphs">J-SCOPE</text>
<g filter="url(#gs)"><text x="862" y="354.6" font-size="29.5" text-anchor="middle" fill="#ffffff" stroke="#ffffff" stroke-width="0.8" textLength="116.500" lengthAdjust="spacingAndGlyphs">J-SCOPE</text></g>

<rect x="638.5" y="88.3" width="290" height="164.1" fill="#fff" stroke="#262626" stroke-width="1.25"/>
<line x1="646.1" y1="111.2" x2="722.7" y2="111.2" stroke="#0000ff" stroke-width="7.8"/>
<line x1="646.1" y1="150.5" x2="722.7" y2="150.5" stroke="#ff0000" stroke-width="7.8"/>
<line x1="646.1" y1="189.8" x2="722.7" y2="189.8" stroke="#000000" stroke-width="7.8"/>
<line x1="646.1" y1="229.1" x2="722.7" y2="229.1" stroke="#00ff00" stroke-width="7.8"/>
<g filter="url(#gs)">
<g><text transform="matrix(0.3442 0 0 0.3375 728.16 123.00)" font-size="100" fill="#000">Run</text> <text transform="matrix(0.3098 0 0 0.3375 803.28 123.00)" font-size="100" fill="#000">1</text></g>
<g><text transform="matrix(0.3442 0 0 0.3375 728.16 162.50)" font-size="100" fill="#000">Run</text> <text transform="matrix(0.3297 0 0 0.3375 802.35 162.50)" font-size="100" fill="#000">2</text></g>
<g><text transform="matrix(0.3442 0 0 0.3375 728.16 201.50)" font-size="100" fill="#000">Run</text> <text transform="matrix(0.3368 0 0 0.3375 802.74 201.50)" font-size="100" fill="#000">3</text></g>
<text transform="matrix(0.3646 0 0 0.3375 728.18 240.40)" font-size="100" fill="#000">Climatology</text>
<text transform="matrix(0.3671 0 0 0.3404 211.27 635.00)" font-size="100" fill="#000">Hypoxia</text>
<g><text transform="matrix(0.4550 0 0 0.4000 260.93 49.80)" font-size="100" font-weight="bold" stroke="#000" stroke-width="1.5" fill="#000">Forecast</text> <text transform="matrix(0.5065 0 0 0.4000 465.08 49.80)" font-size="100" font-weight="bold" stroke="#000" stroke-width="1.4" fill="#000">at</text> <text transform="matrix(0.4579 0 0 0.4000 523.77 49.80)" font-size="100" font-weight="bold" stroke="#000" stroke-width="1.5" fill="#000">Chaba,</text> <text transform="matrix(0.4871 0 0 0.4000 691.70 49.80)" font-size="100" font-weight="bold" stroke="#000" stroke-width="1.4" fill="#000">2020</text></g>
<g><text transform="matrix(0.4439 0 0 0.4029 428.90 807.60)" font-size="100" fill="#262626">Year</text> <text transform="matrix(0.4492 0 0 0.4029 530.45 807.60)" font-size="100" fill="#262626">2020</text></g>
<g><text transform="matrix(0 -0.4520 0.4145 0 50.30 597.63)" font-size="100" fill="#262626">Bottom</text> <text transform="matrix(0 -0.4384 0.4145 0 50.30 441.68)" font-size="100" fill="#262626">Oxygen</text> <text transform="matrix(0 -0.4673 0.4145 0 50.30 278.32)" font-size="100" fill="#262626">(ml/l)</text></g>
<text transform="matrix(0.3775 0 0 0.3695 78.49 759.00)" font-size="100" fill="#262626">Feb</text>
<text transform="matrix(0.3975 0 0 0.3695 177.32 759.00)" font-size="100" fill="#262626">Mar</text>
<text transform="matrix(0.3993 0 0 0.3695 287.90 759.00)" font-size="100" fill="#262626">Apr</text>
<text transform="matrix(0.3823 0 0 0.3695 383.85 759.00)" font-size="100" fill="#262626">May</text>
<text transform="matrix(0.3556 0 0 0.3695 499.07 759.00)" font-size="100" fill="#262626">Jun</text>
<text transform="matrix(0.3515 0 0 0.3695 608.07 759.00)" font-size="100" fill="#262626">Jul</text>
<text transform="matrix(0.3994 0 0 0.3695 703.50 759.00)" font-size="100" fill="#262626">Aug</text>
<text transform="matrix(0.3846 0 0 0.3695 811.67 759.00)" font-size="100" fill="#262626">Sep</text>
<text transform="matrix(0.4040 0 0 0.3695 917.98 759.00)" font-size="100" fill="#262626">Oct</text>
<text transform="matrix(0.3916 0 0 0.3802 68.23 716.62)" font-size="100" fill="#262626">0</text>
<text transform="matrix(0.3846 0 0 0.3857 68.08 557.75)" font-size="100" fill="#262626">2</text>
<text transform="matrix(0.3842 0 0 0.3913 68.44 398.50)" font-size="100" fill="#262626">4</text>
<text transform="matrix(0.3978 0 0 0.3802 68.01 238.87)" font-size="100" fill="#262626">6</text>
<text transform="matrix(0.3936 0 0 0.3802 68.03 79.62)" font-size="100" fill="#262626">8</text>
</g>
</svg>
</body></html>
